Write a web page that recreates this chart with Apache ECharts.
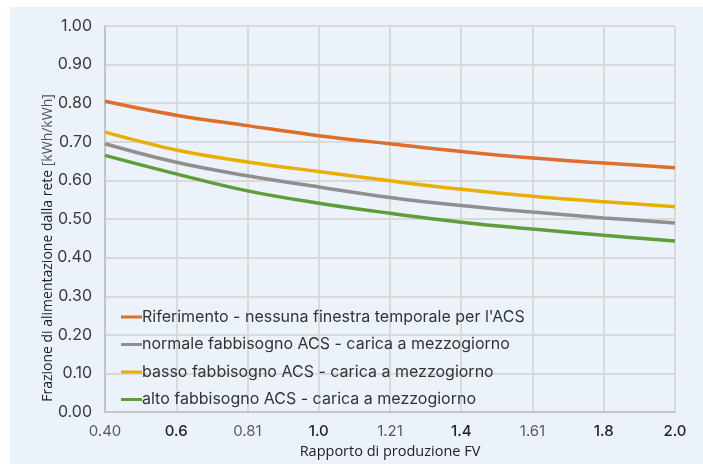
<!DOCTYPE html>
<html>
<head>
<meta charset="utf-8">
<script src="https://cdn.jsdelivr.net/npm/echarts@6/dist/echarts.min.js"></script>
<style>
html,body{margin:0;padding:0;background:#ffffff;overflow:hidden;}
#chart{width:703px;height:464px;}
</style>
</head>
<body>
<div id="chart"></div>
<script>
const xValues = [0.4, 0.6, 0.8, 1.0, 1.2, 1.4, 1.6, 1.8, 2.0];
const xTickLabels = ['0.40', '0.6', '0.81', '1.0', '1.21', '1.4', '1.61', '1.8', '2.0'];
const seriesNames = [
  "Riferimento - nessuna finestra temporale per l'ACS",
  "normale fabbisogno ACS - carica a mezzogiorno",
  "basso fabbisogno ACS - carica a mezzogiorno",
  "alto fabbisogno ACS - carica a mezzogiorno"
];
const riferimento = [0.805, 0.769, 0.742, 0.716, 0.695, 0.675, 0.658, 0.645, 0.633];
const normale = [0.695, 0.647, 0.612, 0.583, 0.556, 0.535, 0.518, 0.503, 0.490];
const basso = [0.725, 0.679, 0.648, 0.623, 0.599, 0.577, 0.559, 0.545, 0.532];
const alto = [0.665, 0.617, 0.573, 0.541, 0.515, 0.492, 0.474, 0.458, 0.443];
const colors = ['#DD6E2B', '#8F8F8F', '#E9AE00', '#5E9E3A'];

const chart = echarts.init(document.getElementById('chart'));
function pairs(ys){ return xValues.map((x,i)=>[x, ys[i]]); }
const darkTicks = {'0.6':1,'1.0':1,'1.4':1,'1.8':1,'2.0':1};
const allData = [riferimento, normale, basso, alto];

chart.setOption({
  animation: false,
  backgroundColor: '#ffffff',
  graphic: [{
    type: 'rect', z: -10, silent: true,
    shape: {x: 10, y: 7, width: 693, height: 457},
    style: {fill: '#ECF2FA'}
  }, {
    type: 'text', x: 48, y: 248, rotation: Math.PI / 2, silent: true,
    style: {
      text: '{a|Frazione di alimentazione dalla rete }{b|[kWh/kWh]}',
      align: 'center', verticalAlign: 'middle',
      rich: {
        a: {fontFamily: 'Open Sans, Roboto, sans-serif', fontSize: 14, fill: '#222222'},
        b: {fontFamily: 'Open Sans, Roboto, sans-serif', fontSize: 14, fill: '#555555'}
      }
    }
  }],
  grid: {left: 105, right: 28, top: 26, bottom: 47, containLabel: false},
  legend: {
    orient: 'vertical',
    left: 116, top: 304,
    itemWidth: 21, itemHeight: 3, itemGap: 11.5,
    icon: 'rect',
    data: seriesNames,
    textStyle: {fontFamily: 'Inter, Roboto, sans-serif', fontSize: 16, color: '#333333', padding: [0,0,0,-5]}
  },
  xAxis: {
    type: 'value', min: 0.4, max: 2.0, interval: 0.2,
    name: 'Rapporto di produzione FV',
    nameLocation: 'middle', nameGap: 28,
    nameTextStyle: {fontFamily: 'Open Sans, Roboto, sans-serif', fontSize: 14.5, color: '#222222'},
    axisLine: {show: true, lineStyle: {color: '#C4C4C4', width: 2}},
    axisTick: {show: false},
    splitLine: {show: true, lineStyle: {color: '#D9D9D9', width: 2}},
    axisLabel: {
      margin: 12,
      fontFamily: 'Inter, Roboto, sans-serif',
      fontSize: 15, color: '#5A5A5A',
      formatter: function(v){
        const idx = xValues.findIndex(x => Math.abs(x - v) < 1e-6);
        const t = idx >= 0 ? xTickLabels[idx] : '';
        return darkTicks[t] ? '{b|' + t + '}' : t;
      },
      rich: {b: {fontFamily: 'Inter, Roboto, sans-serif', fontSize: 15, fontWeight: 500, color: '#222222'}}
    }
  },
  yAxis: {
    type: 'value', min: 0, max: 1, interval: 0.1,
    axisLine: {show: true, lineStyle: {color: '#C4C4C4', width: 2}},
    axisTick: {show: false},
    splitLine: {show: true, lineStyle: {color: '#D9D9D9', width: 2}},
    axisLabel: {
      margin: 13, fontFamily: 'Inter, Roboto, sans-serif', fontSize: 16, color: '#3A3A3A',
      formatter: v => v.toFixed(2)
    }
  },
  series: seriesNames.map((n, i) => ({
    name: n, type: 'line', smooth: 0.4, showSymbol: false,
    data: pairs(allData[i]),
    itemStyle: {color: colors[i]},
    lineStyle: {color: colors[i], width: 3.5}
  }))
});
</script>
</body>
</html>
